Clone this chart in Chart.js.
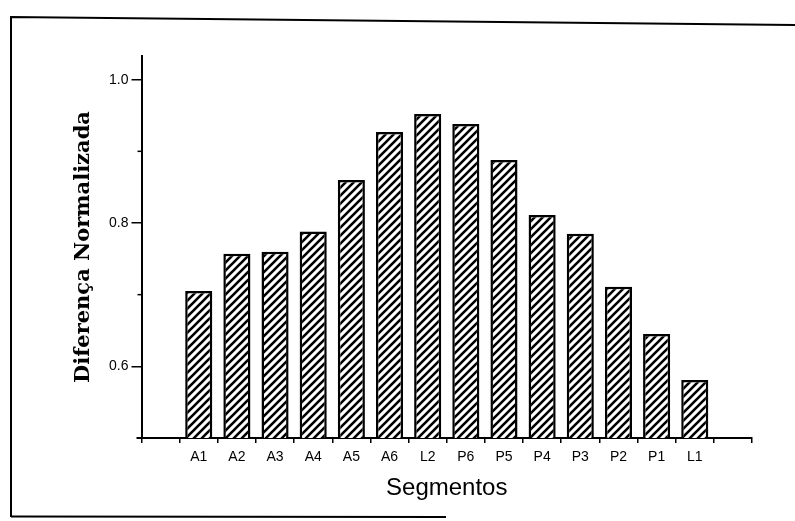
<!DOCTYPE html>
<html>
<head>
<meta charset="utf-8">
<script src="https://cdn.jsdelivr.net/npm/chart.js@4/dist/chart.umd.min.js"></script>
<style>
  html, body { margin: 0; padding: 0; background: #fff; }
  #wrap { width: 795px; height: 521px; position: relative; }
</style>
</head>
<body>
<div id="wrap"><canvas id="c" width="795" height="521"></canvas></div>
<script>
// Segments along the axis (empty slot at each end of the axis)
const segments = ['', 'A1', 'A2', 'A3', 'A4', 'A5', 'A6', 'L2', 'P6', 'P5', 'P4', 'P3', 'P2', 'P1', 'L1', ''];
// Normalised difference per segment
const normDiff = [null, 0.705, 0.757, 0.760, 0.788, 0.860, 0.927, 0.952, 0.938, 0.888, 0.811, 0.785, 0.711, 0.645, 0.581, null];
// Labelled y ticks and the short unlabelled ones between them
const yMajorTicks = [0.6, 0.8, 1.0];
const yMinorTicks = [0.7, 0.9];
const yRange = [0.5, 1.033];

// Diagonal hatch fill for the bars
function makeHatch() {
  const s = 8;
  const p = document.createElement('canvas');
  p.width = s; p.height = s;
  const g = p.getContext('2d');
  g.fillStyle = '#fff';
  g.fillRect(0, 0, s, s);
  g.strokeStyle = '#000';
  g.lineWidth = 2.6;
  g.lineCap = 'square';
  g.beginPath();
  g.moveTo(-1, s + 1); g.lineTo(s + 1, -1);
  g.moveTo(-1, 1); g.lineTo(1, -1);
  g.moveTo(s - 1, s + 1); g.lineTo(s + 1, s - 1);
  g.stroke();
  return g.createPattern(p, 'repeat');
}

const ctx = document.getElementById('c').getContext('2d');

// Outer frame, the short minor ticks on the value axis and the axis stub left of the origin
const framePlugin = {
  id: 'frame',
  afterDraw(chart) {
    const c = chart.ctx;
    const area = chart.chartArea;
    c.save();
    c.strokeStyle = '#000';
    c.lineWidth = 2;
    c.beginPath();
    c.moveTo(11, 517); c.lineTo(11, 17);
    c.lineTo(795, 25);
    c.stroke();
    c.beginPath();
    c.moveTo(11, 516.5); c.lineTo(446, 517);
    c.stroke();
    c.beginPath();
    c.moveTo(area.left - 5, area.bottom); c.lineTo(area.left, area.bottom);
    c.stroke();
    const y = chart.scales.y;
    c.lineWidth = 1.5;
    yMinorTicks.forEach(v => {
      const py = y.getPixelForValue(v);
      c.beginPath();
      c.moveTo(area.left - 4, py); c.lineTo(area.left, py);
      c.stroke();
    });
    c.restore();
  }
};

new Chart(ctx, {
  type: 'bar',
  data: {
    labels: segments,
    datasets: [{
      data: normDiff,
      backgroundColor: makeHatch(),
      borderColor: '#000',
      borderWidth: 2.5,
      borderSkipped: false,
      barPercentage: 0.71,
      categoryPercentage: 1.0
    }]
  },
  options: {
    responsive: false,
    animation: false,
    devicePixelRatio: 1,
    layout: { padding: { left: 0, right: 43, top: 56, bottom: 0 } },
    plugins: { legend: { display: false }, tooltip: { enabled: false } },
    scales: {
      x: {
        offset: true,
        grid: { display: true, drawOnChartArea: false, offset: true, tickLength: 5, color: '#000', lineWidth: 1.5 },
        border: { display: true, color: '#000', width: 2 },
        ticks: {
          color: '#000',
          padding: 6,
          autoSkip: false,
          maxRotation: 0,
          font: { family: '"Liberation Sans", Arial, sans-serif', size: 14 }
        },
        title: {
          display: true,
          text: 'Segmentos',
          color: '#000',
          font: { family: '"Liberation Sans", Arial, sans-serif', size: 24 },
          padding: { top: 0, bottom: 18 }
        },
        afterFit(scale) { scale.height = 83; }
      },
      y: {
        min: yRange[0],
        max: yRange[1],
        afterBuildTicks(scale) { scale.ticks = yMajorTicks.map(v => ({ value: v })); },
        grid: { display: true, drawOnChartArea: false, tickLength: 10, color: '#000', lineWidth: 1.5 },
        border: { display: true, color: '#000', width: 2 },
        ticks: {
          color: '#000',
          padding: 3,
          font: { family: '"Liberation Sans", Arial, sans-serif', size: 14 },
          callback: v => Number(v).toFixed(1)
        },
        title: {
          display: true,
          text: 'Diferença Normalizada',
          color: '#000',
          font: { family: '"DejaVu Serif", serif', size: 21, weight: 'bold' },
          padding: { top: 71, bottom: 0 }
        },
        afterFit(scale) { scale.width = 141.5; }
      }
    }
  },
  plugins: [framePlugin]
});
</script>
</body>
</html>
